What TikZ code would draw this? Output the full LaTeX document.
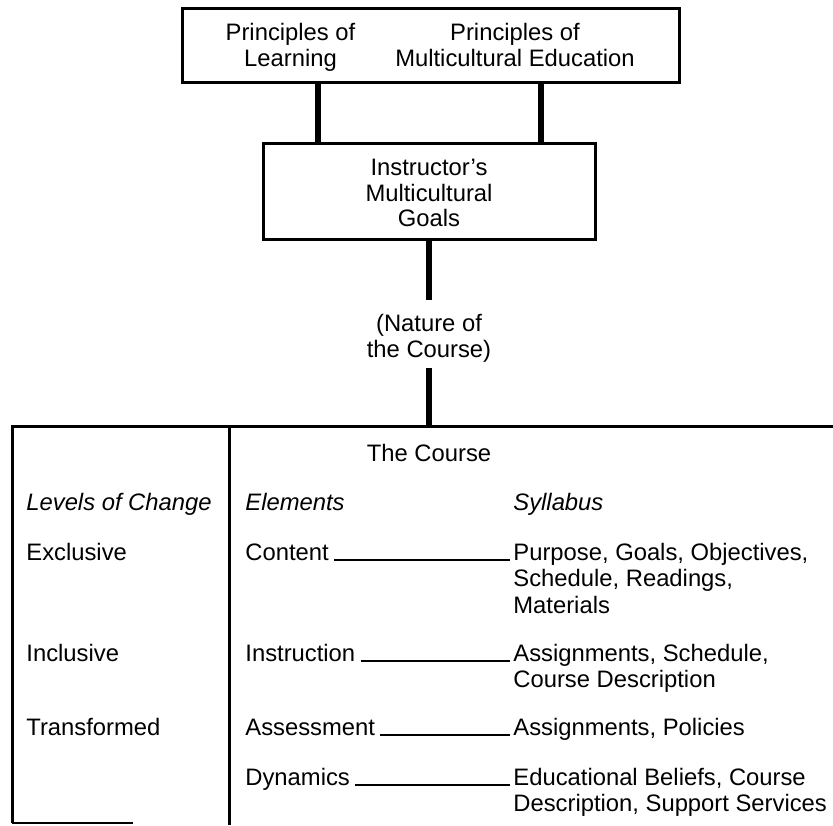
\documentclass[tikz,border=0pt]{standalone}
\usepackage{fontspec}
\setmainfont{Liberation Sans}
\usetikzlibrary{positioning,%
		calc}

\begin{document}
\begin{tikzpicture}[x=0.5pt,y=-0.5pt,
	font=\fontsize{11.9pt}{12.7pt}\selectfont,
	riquadro/.style={draw,line width=1.5pt,inner sep=0pt},
	testo/.style={inner sep=0pt,align=center},
	voce/.style={inner sep=0pt,anchor=base west},
	elenco/.style={inner sep=0pt,anchor=north west,align=left,font=\fontsize{11.9pt}{13.25pt}\selectfont},
	linea/.style={line width=3pt},
	bordo/.style={line width=1.5pt},
	filo/.style={line width=1pt,shorten <=2.5pt,shorten >=1.5pt}]
\useasboundingbox (0,0) rectangle (833,825);

%principi
\node[riquadro,minimum width=248.5pt,minimum height=37pt] (principi) at (430.5,45) {};
\node[testo,anchor=north] (apprendimento) at (290.5,23) {Principles of\\Learning};
\node[testo,anchor=north] (multicultura) at (515,23) {Principles of\\Multicultural Education};

%obiettivi dell'istruttore
\node[riquadro,minimum width=166pt,minimum height=48pt] (obiettivi) at (429,191) {};
\node[testo,anchor=north] (istruttore) at (429,159) {Instructor's\\Multicultural\\Goals};
\draw[linea] (principi.south -| 318,0) -- (obiettivi.north -| 318,0);
\draw[linea] (principi.south -| 541,0) -- (obiettivi.north -| 541,0);

%natura del corso
\node[testo,anchor=north] (natura) at (429,314) {(Nature of\\the Course)};
\draw[linea] (obiettivi.south) -- ([yshift=7pt]natura.north);

%tabella
\coordinate (alto sx) at (12,426);
\coordinate (alto dx) at (833,426);
\coordinate (basso sx) at (12,823);
\coordinate (fondo) at (133,823);
\coordinate (divisore) at (229,426);
\draw[linea] ([yshift=-3pt]natura.south) -- (natura.south |- alto sx);
\draw[bordo] (basso sx) -- (alto sx) -- (alto dx);
\draw[bordo] (divisore) -- (divisore |- 0,825);
\draw[line width=1pt] (basso sx) -- (fondo);

\node[testo,anchor=base] (corso) at (429,461.5) {The Course};
\node[voce] (livelli) at (26,510) {\itshape Levels of Change};
\node[voce] (elementi) at (245,510) {\itshape Elements};
\node[voce] (sillabo) at (513,510) {\itshape Syllabus};

\node[voce] (esclusivo) at (26,560) {Exclusive};
\node[voce] (contenuto) at (245,560) {Content};
\node[elenco] (scopo) at (513,542.5) {Purpose, Goals, Objectives,\\Schedule, Readings,\\Materials};

\node[voce] (inclusivo) at (26,661) {Inclusive};
\node[voce] (istruzione) at (245,661) {Instruction};
\node[elenco] (compiti) at (513,643.5) {Assignments, Schedule,\\Course Description};

\node[voce] (trasformato) at (26,735) {Transformed};
\node[voce] (valutazione) at (245,735) {Assessment};
\node[voce] (politiche) at (513,735) {Assignments, Policies};

\node[voce] (dinamiche) at (245,785) {Dynamics};
\node[elenco] (credenze) at (513,767.5) {Educational Beliefs, Course\\Description, Support Services};

%collegamenti elementi - sillabo
\draw[filo] (contenuto.base east) -- (contenuto.base east -| scopo.west);
\draw[filo] (istruzione.base east) -- (istruzione.base east -| compiti.west);
\draw[filo] (valutazione.base east) -- (politiche.base west);
\draw[filo] (dinamiche.base east) -- (dinamiche.base east -| credenze.west);
\end{tikzpicture}
\end{document}
